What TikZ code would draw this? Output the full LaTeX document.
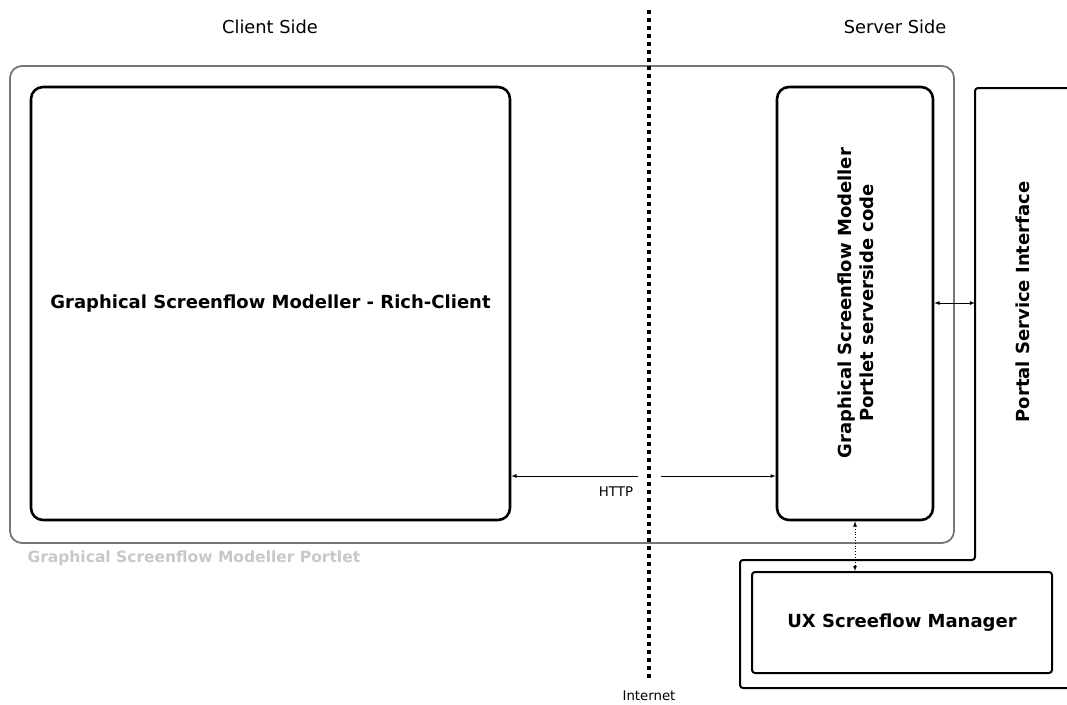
\documentclass[tikz,border=0pt]{standalone}
\usepackage{fontspec}
\setmainfont{DejaVu Sans}
\usetikzlibrary{positioning}
\definecolor{rahmengrau}{HTML}{777777}
\definecolor{textgrau}{HTML}{C8C8C8}
\tikzset{
  modul/.style={draw,line width=2.6pt,rounded corners=12pt,align=center,
    font=\bfseries\fontsize{18}{22}\selectfont},
  pfeil/.style={<->,line width=0.8pt},
  seite/.style={font=\fontsize{17.8}{21}\selectfont},
  klein/.style={font=\fontsize{13.3}{16}\selectfont}
}
\begin{document}
\begin{tikzpicture}[>=latex,x=1pt,y=-1pt]
\useasboundingbox (0,0) rectangle (1067,704);
% Seitenbeschriftungen
\node[seite] (client) at (270,27) {Client Side};
\node[seite] (server) at (895,27) {Server Side};
% Portlet-Rahmen
\node[draw=rahmengrau,line width=1.8pt,rounded corners=12pt,
      minimum width=944pt,minimum height=477pt] (portlet) at (482,304.5) {};
\node[anchor=west,text=textgrau,font=\bfseries\fontsize{15.5}{18}\selectfont]
      (portletlabel) at (24,558) {Graphical Screenflow Modeller Portlet};
% Module
\node[modul,minimum width=479pt,minimum height=433pt] (rich) at (270.5,303.5)
      {Graphical Screenflow Modeller - Rich-Client};
\node[modul,minimum width=156pt,minimum height=433pt] (srv) at (855,303.5) {};
\node[rotate=90,align=center,font=\bfseries\fontsize{18}{22}\selectfont]
      (srvtext) at (856,303) {Graphical Screenflow Modeller\\Portlet serverside code};
% Portal Service Interface
\draw[line width=2pt,rounded corners=3pt]
      (1075,88) -- (975,88) -- (975,560) -- (740,560) -- (740,688) -- (1075,688);
\node[rotate=90,font=\bfseries\fontsize{18}{22}\selectfont] (psitext) at (1023,302)
      {Portal Service Interface};
\node[draw,line width=2pt,rounded corners=3pt,minimum width=300pt,minimum height=101pt,
      font=\bfseries\fontsize{18}{22}\selectfont] (ux) at (902,622.5) {UX Screeflow Manager};
% Internet-Grenze
\coordinate (netoben) at (649,10);
\coordinate (netunten) at (649,680);
\draw[line width=4pt,dash pattern=on 4pt off 4pt] (netoben) -- (netunten);
\node[klein,inner sep=1pt] (internet) at (649,695.5) {Internet};
% Verbindungen
\coordinate (gapL) at (638,476);
\coordinate (gapR) at (661,476);
\draw[->,line width=0.8pt] (gapL) -- (rich.east |- gapL);
\draw[->,line width=0.8pt] (gapR) -- (srv.west |- gapR);
\node[klein] (http) at (616,492) {HTTP};
\coordinate (psi) at (975,303);
\draw[pfeil] (srv.east |- psi) -- (psi);
\draw[pfeil,dotted] (srv.south) -- (srv.south |- ux.north);
\end{tikzpicture}
\end{document}
